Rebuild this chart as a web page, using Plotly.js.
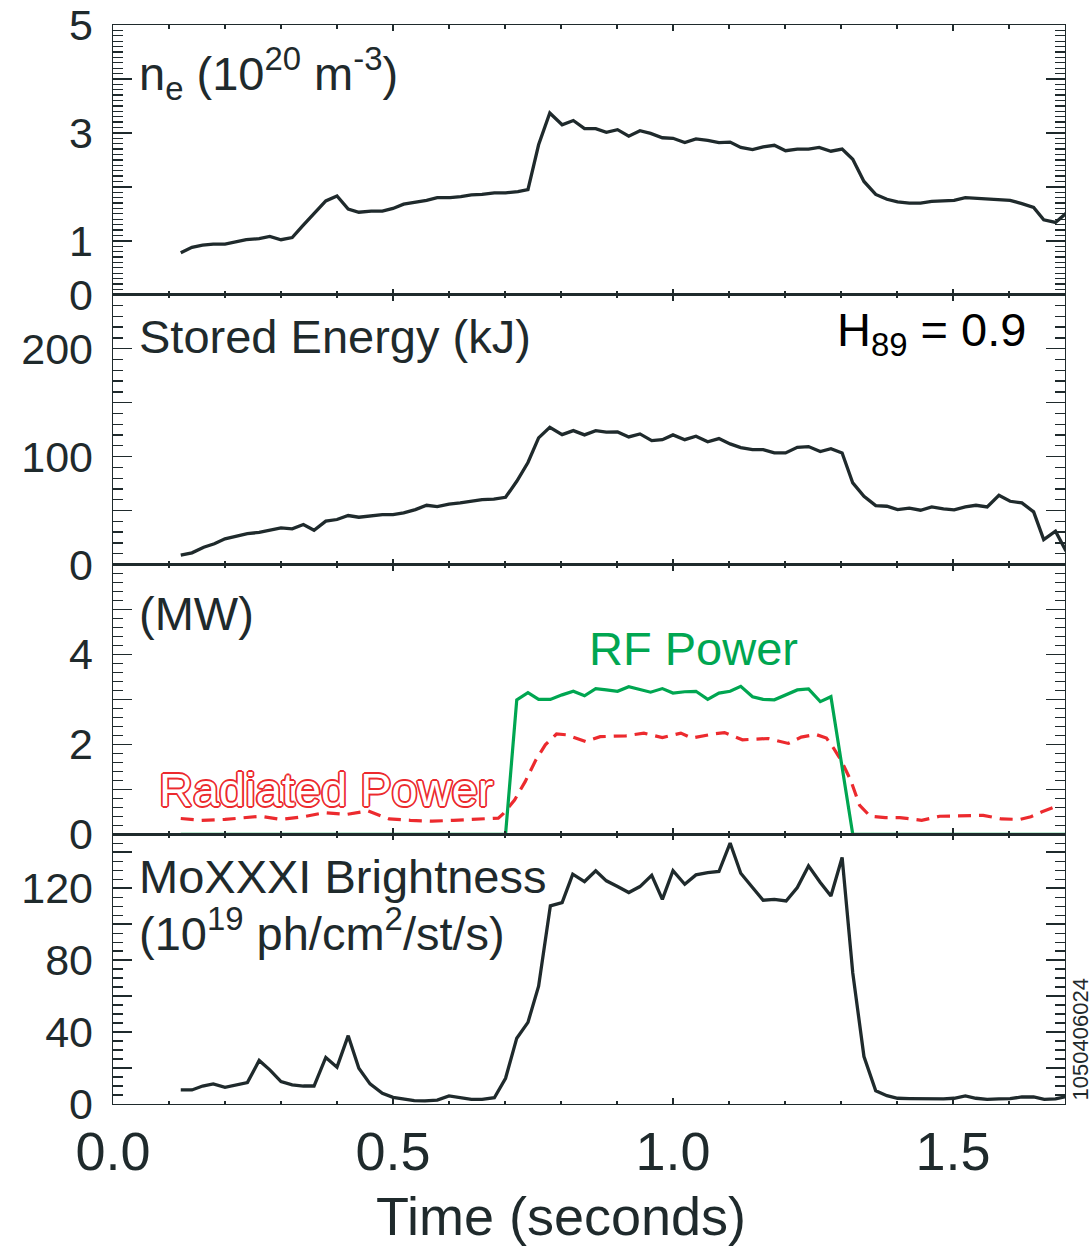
<!DOCTYPE html>
<html>
<head>
<meta charset="utf-8">
<script src="https://cdn.plot.ly/plotly-3.0.1.min.js"></script>
<style>html,body{margin:0;padding:0;background:#fff;}#chart{width:1092px;height:1246px;}</style>
</head>
<body>
<div id="chart"></div>
<script>
// ---- data ----
const tNe = [0.121,0.141,0.160,0.179,0.200,0.219,0.238,0.261,0.280,0.300,0.320,0.339,0.359,0.380,0.400,0.420,0.439,0.461,0.481,0.500,0.519,0.538,0.560,0.579,0.602,0.621,0.640,0.659,0.681,0.701,0.723,0.741,0.760,0.780,0.802,0.822,0.842,0.862,0.881,0.901,0.921,0.941,0.960,0.981,1.000,1.021,1.041,1.062,1.082,1.102,1.121,1.142,1.161,1.181,1.201,1.222,1.242,1.261,1.282,1.302,1.321,1.341,1.362,1.382,1.401,1.422,1.442,1.462,1.483,1.502,1.522,1.541,1.561,1.581,1.602,1.623,1.644,1.662,1.683,1.702];
const ne = [0.78,0.88,0.92,0.94,0.94,0.98,1.02,1.04,1.08,1.02,1.06,1.28,1.51,1.74,1.83,1.59,1.53,1.55,1.55,1.60,1.68,1.71,1.75,1.80,1.80,1.82,1.85,1.86,1.89,1.89,1.91,1.95,2.78,3.37,3.15,3.23,3.08,3.08,3.01,3.06,2.94,3.04,2.99,2.91,2.90,2.82,2.89,2.86,2.82,2.83,2.73,2.69,2.74,2.77,2.67,2.70,2.70,2.73,2.66,2.70,2.51,2.10,1.86,1.77,1.72,1.70,1.70,1.73,1.74,1.75,1.80,1.79,1.78,1.77,1.75,1.69,1.62,1.39,1.34,1.51];

const tW = [0.121,0.141,0.162,0.181,0.200,0.219,0.240,0.261,0.281,0.300,0.320,0.340,0.359,0.380,0.400,0.420,0.439,0.460,0.481,0.500,0.519,0.540,0.560,0.579,0.600,0.620,0.640,0.659,0.680,0.701,0.721,0.741,0.760,0.780,0.802,0.822,0.842,0.862,0.881,0.901,0.921,0.941,0.962,0.981,1.000,1.021,1.041,1.062,1.082,1.102,1.121,1.142,1.161,1.181,1.201,1.222,1.242,1.263,1.282,1.302,1.321,1.341,1.362,1.382,1.401,1.422,1.442,1.462,1.483,1.502,1.522,1.541,1.561,1.582,1.602,1.623,1.644,1.662,1.683,1.702];
const storedEnergy = [8.7,10.8,16.0,19.2,23.8,26.2,28.7,29.7,31.7,34.0,33.1,37.0,31.7,40.2,41.7,45.4,43.8,45.4,46.3,46.3,47.9,50.9,54.9,53.7,55.9,57.1,59.0,60.2,60.5,62.3,77.1,94.5,117.3,127.2,120.4,124.1,120.1,124.1,122.6,122.8,118.2,121.0,114.8,115.7,120.1,115.7,118.9,113.7,116.7,111.8,108.4,106.5,106.5,103.4,103.4,108.6,109.3,104.7,107.4,103.4,75.6,63.2,54.6,54.0,50.9,52.2,50.3,53.4,51.6,50.7,53.4,54.9,53.4,64.2,58.6,57.1,48.8,23.1,30.8,12.3];

const tRf = [0.121,0.701,0.721,0.741,0.760,0.781,0.802,0.822,0.842,0.862,0.881,0.901,0.921,0.941,0.960,0.981,1.000,1.021,1.041,1.062,1.082,1.102,1.121,1.142,1.161,1.181,1.201,1.222,1.242,1.263,1.282,1.321,1.702];
const rfPower = [0,0,2.99,3.15,3.0,3.0,3.10,3.18,3.08,3.24,3.21,3.18,3.28,3.21,3.16,3.24,3.14,3.17,3.18,3.0,3.14,3.18,3.29,3.06,3.0,2.99,3.10,3.21,3.23,2.95,3.06,0,0];

const tRad = [0.121,0.158,0.200,0.230,0.264,0.300,0.340,0.378,0.417,0.455,0.493,0.531,0.570,0.608,0.646,0.688,0.697,0.717,0.736,0.755,0.772,0.792,0.811,0.844,0.870,0.916,0.948,0.981,1.014,1.033,1.072,1.092,1.124,1.170,1.206,1.229,1.255,1.274,1.287,1.300,1.317,1.333,1.352,1.379,1.405,1.444,1.476,1.509,1.554,1.587,1.620,1.639,1.659,1.691];
const radPower = [0.35,0.31,0.33,0.37,0.40,0.33,0.39,0.48,0.44,0.52,0.34,0.31,0.29,0.31,0.33,0.36,0.46,0.76,1.17,1.65,1.99,2.23,2.21,2.06,2.17,2.19,2.25,2.15,2.25,2.14,2.23,2.26,2.10,2.13,2.02,2.16,2.22,2.14,1.91,1.65,1.21,0.65,0.40,0.37,0.37,0.31,0.40,0.41,0.42,0.34,0.33,0.39,0.50,0.65];

const tMo = [0.121,0.141,0.160,0.179,0.200,0.219,0.240,0.261,0.280,0.300,0.320,0.340,0.359,0.380,0.400,0.420,0.439,0.459,0.481,0.500,0.519,0.538,0.557,0.579,0.600,0.621,0.640,0.659,0.681,0.701,0.721,0.741,0.760,0.781,0.802,0.821,0.842,0.862,0.881,0.901,0.921,0.941,0.962,0.981,1.000,1.021,1.041,1.062,1.082,1.102,1.121,1.142,1.161,1.181,1.202,1.222,1.242,1.263,1.282,1.302,1.321,1.341,1.362,1.382,1.401,1.422,1.442,1.462,1.483,1.502,1.522,1.541,1.561,1.582,1.602,1.623,1.644,1.663,1.683,1.702];
const moBrightness = [7.8,7.8,10,11.2,9.3,10.6,11.9,24.2,19,12.5,10.6,10,10,25.9,20.5,38,19.9,11.2,6,3.7,2.6,1.9,1.7,2.2,4.5,3.7,2.6,2.6,3.5,14.3,36.6,45.4,65.5,110.2,112,127.8,123.7,129.7,124.1,120.9,117.6,120.9,127.2,113.8,129.7,122.2,127.4,128.7,129.3,145.1,128.3,120.4,113.3,113.8,112.9,120.4,132.4,123.2,115.7,137.1,72.9,26.4,7.4,4.6,3.2,3.0,2.8,2.8,2.8,3.2,4.5,3.2,2.6,2.8,3.0,3.9,3.9,2.6,2.8,4.1];

// tick labels
const xTickVals = [0, 0.5, 1.0, 1.5];
const xTickText = ['0.0', '0.5', '1.0', '1.5'];
const neTickVals = [0,1,2,3,4,5];
const neTickText = ['0','1','','3','','5'];
const wTickVals = [0,50,100,150,200,250];
const wTickText = ['0','','100','','200',''];
const pTickVals = [0,1,2,3,4,5,6];
const pTickText = ['0','','2','','4','',''];
const moTickVals = [0,20,40,60,80,100,120,140];
const moTickText = ['0','','40','','80','','120',''];

// ---- styling ----
const FONT = '"Liberation Sans", Arial, Helvetica, sans-serif';
const INK = '#1f2a2c';
const GREEN = '#00a651';
const RED = '#ec2a2e';

const traces = [
  {x: tNe, y: ne, xaxis:'x', yaxis:'y', mode:'lines', line:{color:INK, width:3.3}},
  {x: tW, y: storedEnergy, xaxis:'x2', yaxis:'y2', mode:'lines', line:{color:INK, width:3.3}},
  {x: tRad, y: radPower, xaxis:'x3', yaxis:'y3', mode:'lines', line:{color:RED, width:3.2, dash:'13px,8px'}},
  {x: tRf, y: rfPower, xaxis:'x3', yaxis:'y3', mode:'lines', line:{color:GREEN, width:3.2}},
  {x: tMo, y: moBrightness, xaxis:'x4', yaxis:'y4', mode:'lines', line:{color:INK, width:3.3}}
];

function xAxis(anchor, labels) {
  return {
    anchor: anchor, range:[0,1.7], showline:true, linecolor:INK, linewidth:1.4, mirror:'allticks',
    ticks:'inside', ticklen:6, tickwidth:1.5, tickcolor:INK,
    tickmode:'array', tickvals:xTickVals, ticktext:xTickText,
    showticklabels: labels, showgrid:false, zeroline:false,
    tickfont:{family:FONT, size:54, color:INK}, ticklabelstandoff: 0,
    minor:{ticks:'inside', ticklen:3.5, tickwidth:1.2, tickcolor:INK, dtick:0.1, tick0:0, showgrid:false}
  };
}
function yAxis(anchor, domain, range, vals, text, minorDt) {
  return {
    anchor: anchor, domain: domain, range: range, showline:true, linecolor:INK, linewidth:1.4, mirror:'allticks',
    ticks:'inside', ticklen:19, tickwidth:1.5, tickcolor:INK,
    tickmode:'array', tickvals: vals, ticktext: text,
    showgrid:false, zeroline:false,
    tickfont:{family:FONT, size:43, color:INK}, ticklabelstandoff: 10,
    minor:{ticks:'inside', ticklen:10, tickwidth:1.3, tickcolor:INK, dtick:minorDt, tick0:0, showgrid:false}
  };
}

const ann = (text, xref, yref, x, y, xa, color, size, extra) => Object.assign({
  text: text, xref: xref, yref: yref, x: x, y: y, xanchor: xa, yanchor:'middle',
  showarrow:false, font:{family:FONT, size:size, color:color}
}, extra || {});

const layout = {
  width:1092, height:1246,
  margin:{l:113, r:27, t:25, b:142},
  paper_bgcolor:'#ffffff', plot_bgcolor:'#ffffff',
  showlegend:false,
  font:{family:FONT, color:INK},
  xaxis: xAxis('y', false),
  xaxis2: Object.assign(xAxis('y2', false), {matches:'x'}),
  xaxis3: Object.assign(xAxis('y3', false), {matches:'x'}),
  xaxis4: Object.assign(xAxis('y4', true), {matches:'x'}),
  yaxis: yAxis('x', [0.75,1], [0,5], neTickVals, neTickText, 0.1),
  yaxis2: yAxis('x2', [0.5,0.75], [0,250], wTickVals, wTickText, 10),
  yaxis3: yAxis('x3', [0.25,0.5], [0,6], pTickVals, pTickText, 0.2),
  yaxis4: yAxis('x4', [0,0.25], [0,150], moTickVals, moTickText, 5),
  annotations: [
    ann('n<sub>e</sub> (10<sup>20</sup> m<sup>-3</sup>)', 'x domain', 'y domain', 0.025, 0.82, 'left', INK, 47),
    ann('Stored Energy (kJ)', 'x2 domain', 'y2 domain', 0.025, 0.845, 'left', INK, 47),
    ann('H<sub>89</sub> = 0.9', 'x2 domain', 'y2 domain', 0.961, 0.86, 'right', '#000000', 47),
    ann('(MW)', 'x3 domain', 'y3 domain', 0.025, 0.82, 'left', INK, 47),
    ann('RF Power', 'x3 domain', 'y3 domain', 0.498, 0.69, 'left', GREEN, 47),
    ann('Radiated Power', 'x3 domain', 'y3 domain', 0.046, 0.165, 'left', '#ffffff', 47,
      {font:{family:FONT, size:47, color:'#ffffff',
        shadow: RED+' 1.8px 0 0, '+RED+' -1.8px 0 0, '+RED+' 0 1.8px 0, '+RED+' 0 -1.8px 0, '+RED+' 1.3px 1.3px 0, '+RED+' -1.3px -1.3px 0, '+RED+' 1.3px -1.3px 0, '+RED+' -1.3px 1.3px 0'}}),
    ann('MoXXXI Brightness', 'x4 domain', 'y4 domain', 0.025, 0.845, 'left', INK, 47),
    ann('(10<sup>19</sup> ph/cm<sup>2</sup>/st/s)', 'x4 domain', 'y4 domain', 0.025, 0.645, 'left', INK, 47),
    ann('1050406024', 'x4 domain', 'y4 domain', 1.016, 0.24, 'center', INK, 22, {textangle:-90}),
    ann('Time (seconds)', 'x4 domain', 'paper', 0.4706, -0.104, 'center', INK, 54)
  ]
};

Plotly.newPlot('chart', traces, layout, {displayModeBar:false, staticPlot:true});
</script>
</body>
</html>
